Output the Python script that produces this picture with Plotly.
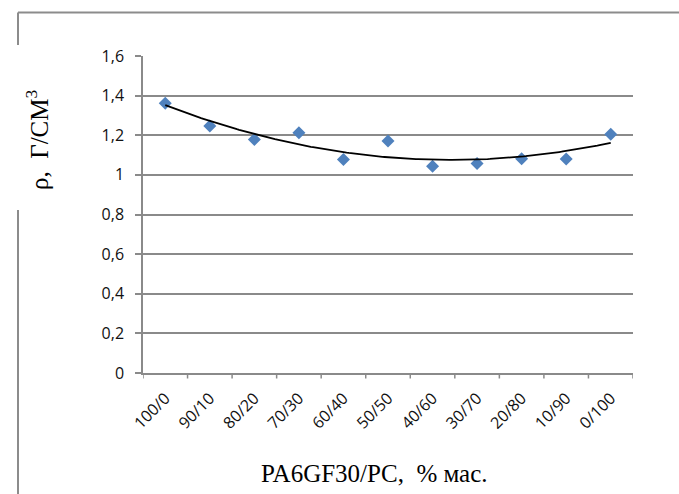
import numpy as np
import plotly.graph_objects as go

# ---- data ----
categories = ["100/0", "90/10", "80/20", "70/30", "60/40", "50/50",
              "40/60", "30/70", "20/80", "10/90", "0/100"]
density = [1.361, 1.247, 1.179, 1.213, 1.078, 1.171, 1.043, 1.058, 1.081, 1.080, 1.205]
y_ticks = [0, 0.2, 0.4, 0.6, 0.8, 1.0, 1.2, 1.4, 1.6]
x_title = "PA6GF30/PC,  % мас."
y_title = "ρ,  Г/СМ<sup>3</sup>"

# ---- layout geometry (pixels) ----
W, H = 679, 494
ML, MR, MT, MB = 143, 46, 56, 121
PW, PH = W - ML - MR, H - MT - MB


def px(x):
    return (x - ML) / PW


def py(y):
    return (H - MB - y) / PH


# polynomial (order 2) trendline from the data, like Excel's trendline
idx = np.arange(len(density))
coef = np.polyfit(idx, density, 2)
tx = np.linspace(0, len(density) - 1, 200)
ty = np.polyval(coef, tx)

fig = go.Figure()
fig.add_trace(go.Scatter(
    x=idx, y=density, mode="markers",
    marker=dict(symbol="diamond", size=10, color="#4F81BD", line=dict(width=0)),
    showlegend=False, hoverinfo="skip"))
fig.add_trace(go.Scatter(
    x=tx, y=ty, mode="lines", line=dict(color="black", width=1.8),
    showlegend=False, hoverinfo="skip"))

GRID = "#8a8a8a"
TICKFONT = dict(family="Open Sans", size=16, color="#111111")
fig.update_layout(
    width=W, height=H,
    margin=dict(l=ML, r=MR, t=MT, b=MB, pad=0),
    paper_bgcolor="white", plot_bgcolor="white",
    separators=", ",
    font=dict(family="Open Sans", size=16, color="#111111"),
    xaxis=dict(
        range=[-0.5, len(categories) - 0.5],
        tickmode="array", tickvals=list(idx), ticktext=categories,
        tickangle=-45, showgrid=False, zeroline=False,
        showline=True, linecolor=GRID, linewidth=1.5,
        ticks="", ticklabelstandoff=8, tickfont=TICKFONT,
        fixedrange=True,
    ),
    yaxis=dict(
        range=[0, 1.6], tickmode="array", tickvals=y_ticks,
        showgrid=True, gridcolor=GRID, gridwidth=1.5, zeroline=False,
        showline=True, linecolor=GRID, linewidth=1.5,
        ticks="outside", ticklen=6, tickcolor=GRID, tickwidth=1.5,
        ticklabelstandoff=8, tickfont=TICKFONT,
        fixedrange=True,
    ),
)

# boundary tick marks on the x axis
shapes = []
for b in np.arange(-0.5, len(categories), 1.0):
    shapes.append(dict(type="line", xref="x", yref="paper", x0=b, x1=b,
                       y0=0, y1=py(H - MB + 5.5), line=dict(color=GRID, width=1.5)))
# outer frame (with gap for the y title)
FR = "#8c8c8c"
shapes.append(dict(type="line", xref="paper", yref="paper",
                   x0=px(18), x1=px(W + 2), y0=py(12.5), y1=py(12.5),
                   line=dict(color=FR, width=2)))
shapes.append(dict(type="line", xref="paper", yref="paper",
                   x0=px(18), x1=px(18), y0=py(12.5), y1=py(45),
                   line=dict(color=FR, width=2)))
shapes.append(dict(type="line", xref="paper", yref="paper",
                   x0=px(18), x1=px(18), y0=py(210), y1=py(H + 2),
                   line=dict(color=FR, width=2)))
fig.update_layout(shapes=shapes)

fig.add_annotation(text=x_title, xref="paper", yref="paper",
                   x=px(374), y=py(473), xanchor="center", yanchor="middle",
                   showarrow=False,
                   font=dict(family="Liberation Serif", size=25, color="black"))
fig.add_annotation(text=y_title, xref="paper", yref="paper",
                   x=px(37), y=py(140), xanchor="center", yanchor="middle",
                   textangle=-90, showarrow=False,
                   font=dict(family="Liberation Serif", size=25, color="black"))

fig.write_html("out.html", config=dict(displayModeBar=False))
